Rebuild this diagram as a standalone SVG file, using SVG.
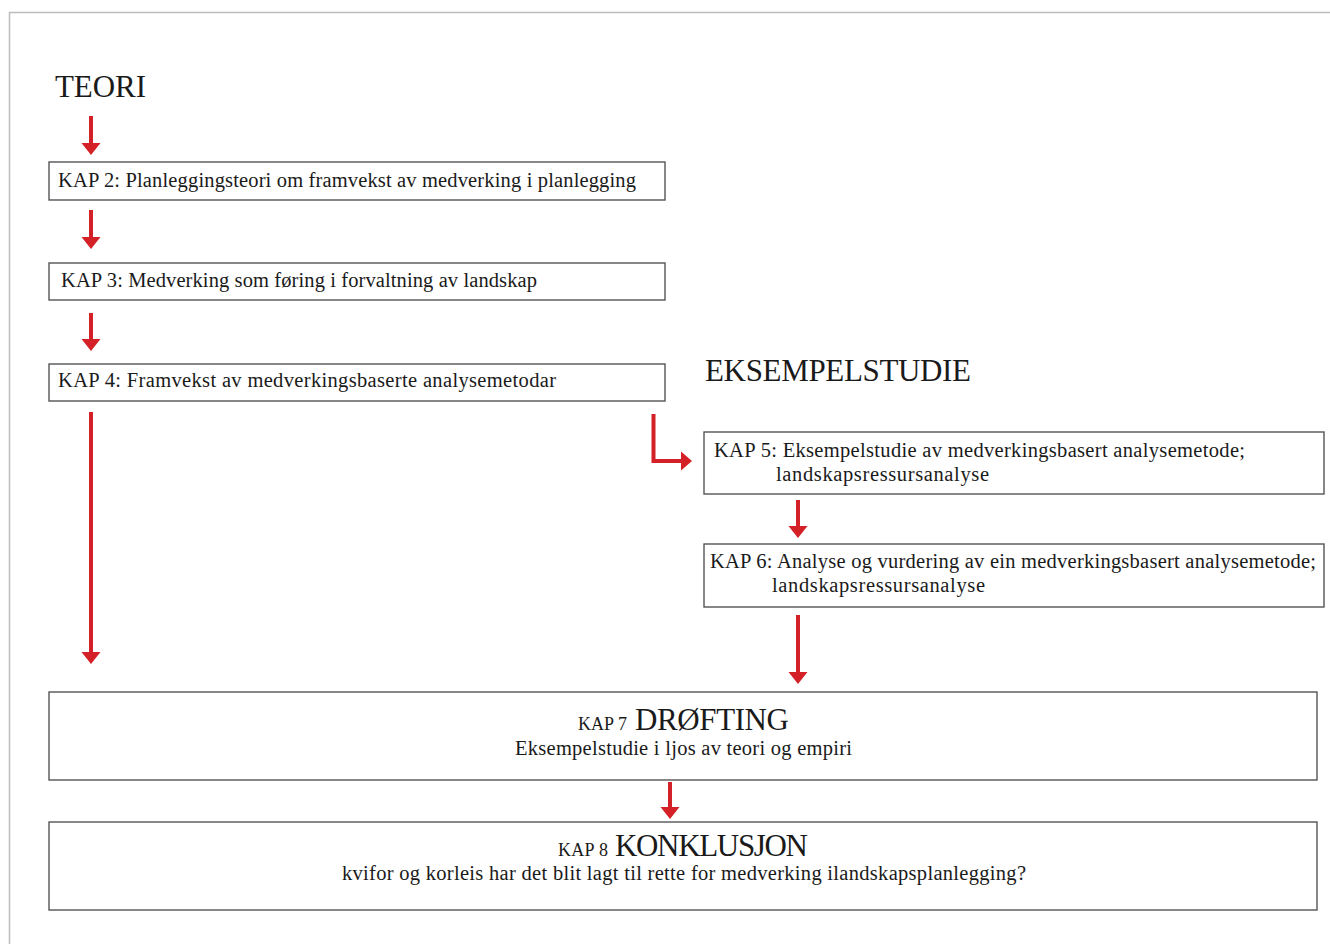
<svg xmlns="http://www.w3.org/2000/svg" width="1330" height="944" viewBox="0 0 1330 944">
<style>
.box{fill:#fff;stroke:#555;stroke-width:1.4}
.t{font-family:"Liberation Serif","DejaVu Serif",serif;fill:#1a1a1a}
.s{font-size:20.5px}
.h{font-size:31px}
.k{font-size:18px}
.ar{stroke:#d42027;stroke-width:4;fill:none}
.hd{fill:#d42027}
</style>
<rect width="1330" height="944" fill="#fff"/>
<path d="M9.5 944 V12.5 H1330" fill="none" stroke="#bdbdbd" stroke-width="1.5"/>
<text class="t h" x="55" y="97" textLength="91">TEORI</text>
<text class="t h" x="705" y="381" textLength="266">EKSEMPELSTUDIE</text>
<g id="connectors">
<line class="ar" x1="91" y1="116" x2="91" y2="144"/><polygon class="hd" points="81.5,143 100.5,143 91,155"/>
<line class="ar" x1="91" y1="210" x2="91" y2="238"/><polygon class="hd" points="81.5,237 100.5,237 91,249"/>
<line class="ar" x1="91" y1="313" x2="91" y2="340"/><polygon class="hd" points="81.5,339 100.5,339 91,351"/>
<line class="ar" x1="91" y1="412" x2="91" y2="653"/><polygon class="hd" points="81.5,652 100.5,652 91,664"/>
<polyline class="ar" points="653.5,414 653.5,461 682,461"/><polygon class="hd" points="681,451.5 681,470.5 692,461"/>
<line class="ar" x1="798" y1="500" x2="798" y2="527"/><polygon class="hd" points="788.5,526 807.5,526 798,538"/>
<line class="ar" x1="798" y1="615" x2="798" y2="673"/><polygon class="hd" points="788.5,672 807.5,672 798,684"/>
<line class="ar" x1="670" y1="782" x2="670" y2="808"/><polygon class="hd" points="660.5,807 679.5,807 670,819"/>
</g>
<g id="kap2"><rect class="box" x="49" y="162" width="616" height="38"/><text class="t s" x="58" y="187" textLength="578">KAP 2: Planleggingsteori om framvekst av medverking i planlegging</text></g>
<g id="kap3"><rect class="box" x="49" y="263" width="616" height="37"/><text class="t s" x="61" y="287" textLength="476">KAP 3: Medverking som føring i forvaltning av landskap</text></g>
<g id="kap4"><rect class="box" x="49" y="364" width="616" height="37"/><text class="t s" x="58" y="387" textLength="498">KAP 4: Framvekst av medverkingsbaserte analysemetodar</text></g>
<g id="kap5"><rect class="box" x="704" y="432" width="620" height="62"/><text class="t s" x="714" y="457" textLength="531">KAP 5: Eksempelstudie av medverkingsbasert analysemetode;</text><text class="t s" x="776" y="481" textLength="213">landskapsressursanalyse</text></g>
<g id="kap6"><rect class="box" x="704" y="544" width="620" height="63"/><text class="t s" x="710" y="568" textLength="606">KAP 6: Analyse og vurdering av ein medverkingsbasert analysemetode;</text><text class="t s" x="772" y="592" textLength="213">landskapsressursanalyse</text></g>
<g id="kap7"><rect class="box" x="49" y="692" width="1268" height="88"/><text class="t k" x="578" y="730" textLength="49">KAP 7</text><text class="t h" x="635" y="730" textLength="154">DRØFTING</text><text class="t s" x="515" y="755" textLength="337">Eksempelstudie i ljos av teori og empiri</text></g>
<g id="kap8"><rect class="box" x="49" y="822" width="1268" height="88"/><text class="t k" x="558" y="856" textLength="50">KAP 8</text><text class="t h" x="615" y="856" textLength="193">KONKLUSJON</text><text class="t s" x="342" y="880" textLength="684">kvifor og korleis har det blit lagt til rette for medverking ilandskapsplanlegging?</text></g>
</svg>
